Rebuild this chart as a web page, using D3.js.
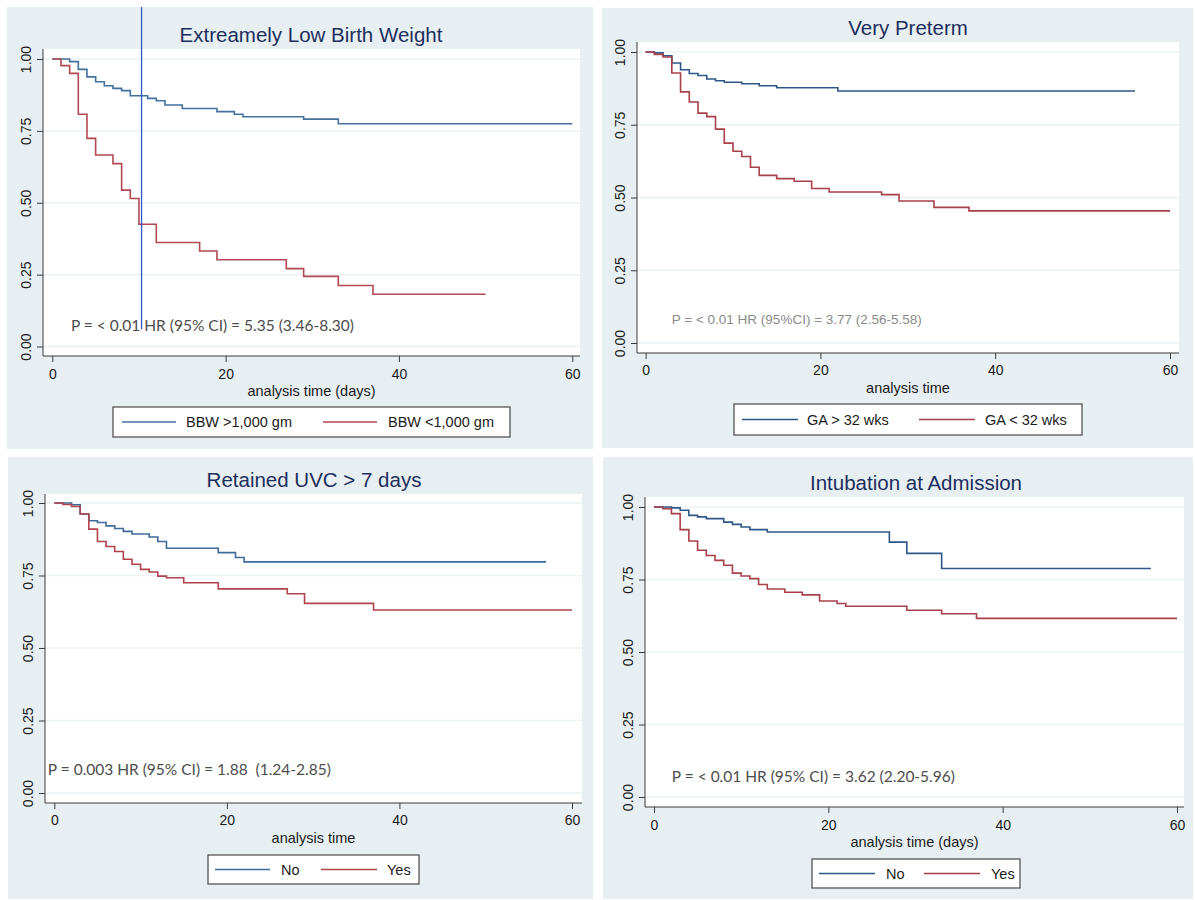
<!DOCTYPE html>
<html>
<head>
<meta charset="utf-8">
<script src="https://cdn.jsdelivr.net/npm/d3@7"></script>
<style>
body { margin: 0; background: #ffffff; }
svg text { font-family: "Liberation Sans", Arial, sans-serif; }
</style>
</head>
<body>
<div id="chart"></div>
<script>
// ---- data ----
const xTicks = [0, 20, 40, 60];
const yTicks = [0, 0.25, 0.5, 0.75, 1];

// Extreamely Low Birth Weight
const elbwHighTime = [0, 2, 3, 4, 5, 6, 7, 8, 9, 11, 12, 13, 15, 19, 21, 22, 29, 33, 60];
const elbwHighSurv = [1, 0.991, 0.964, 0.938, 0.921, 0.907, 0.898, 0.890, 0.872, 0.863, 0.855, 0.840, 0.828, 0.817, 0.808, 0.799, 0.791, 0.775, 0.775];
const elbwLowTime = [0, 1, 2, 3, 4, 5, 7, 8, 9, 10, 12, 17, 19, 27, 29, 33, 37, 50];
const elbwLowSurv = [1, 0.977, 0.950, 0.808, 0.724, 0.666, 0.636, 0.544, 0.515, 0.425, 0.362, 0.332, 0.302, 0.271, 0.244, 0.212, 0.182, 0.182];

// Very Preterm
const gaHighTime = [0, 1, 2, 3, 4, 5, 6, 7, 8, 9, 11, 13, 15, 22, 56];
const gaHighSurv = [1, 0.997, 0.987, 0.962, 0.939, 0.926, 0.919, 0.907, 0.901, 0.896, 0.891, 0.884, 0.877, 0.866, 0.866];
const gaLowTime = [0, 1, 2, 3, 4, 5, 6, 7, 8, 9, 10, 11, 12, 13, 15, 17, 19, 21, 27, 29, 33, 37, 60];
const gaLowSurv = [1, 0.992, 0.983, 0.928, 0.863, 0.828, 0.790, 0.778, 0.735, 0.687, 0.659, 0.641, 0.604, 0.576, 0.565, 0.556, 0.531, 0.519, 0.510, 0.488, 0.466, 0.454, 0.454];

// Retained UVC > 7 days
const uvcNoTime = [0, 2, 3, 4, 5, 6, 7, 8, 9, 11, 12, 13, 19, 21, 22, 57];
const uvcNoSurv = [1, 0.994, 0.962, 0.939, 0.933, 0.921, 0.912, 0.902, 0.893, 0.883, 0.867, 0.844, 0.829, 0.812, 0.797, 0.797];
const uvcYesTime = [0, 1, 2, 3, 4, 5, 6, 7, 8, 9, 10, 11, 12, 13, 15, 19, 27, 29, 37, 60];
const uvcYesSurv = [1, 0.995, 0.988, 0.962, 0.910, 0.867, 0.850, 0.833, 0.806, 0.789, 0.771, 0.762, 0.748, 0.742, 0.725, 0.704, 0.687, 0.654, 0.631, 0.631];

// Intubation at Admission
const intNoTime = [0, 2, 3, 4, 5, 6, 8, 9, 10, 11, 13, 27, 29, 33, 57];
const intNoSurv = [1, 0.997, 0.989, 0.971, 0.966, 0.960, 0.948, 0.940, 0.931, 0.922, 0.914, 0.879, 0.840, 0.788, 0.788];
const intYesTime = [0, 1, 2, 3, 4, 5, 6, 7, 8, 9, 10, 11, 12, 13, 15, 17, 19, 21, 22, 29, 33, 37, 60];
const intYesSurv = [1, 0.994, 0.977, 0.922, 0.883, 0.851, 0.833, 0.816, 0.799, 0.772, 0.762, 0.753, 0.733, 0.717, 0.706, 0.697, 0.676, 0.667, 0.658, 0.644, 0.632, 0.616, 0.616];

const titles = ["Extreamely Low Birth Weight", "Very Preterm", "Retained UVC > 7 days", "Intubation at Admission"];
const xTitles = ["analysis time (days)", "analysis time", "analysis time", "analysis time (days)"];
const legendLabels = [
    ["BBW >1,000 gm", "BBW <1,000 gm"],
    ["GA > 32 wks", "GA < 32 wks"],
    ["No", "Yes"],
    ["No", "Yes"]
];
const notes = [
    "P = < 0.01 HR (95% CI) = 5.35 (3.46-8.30)",
    "P = < 0.01 HR (95%CI) = 3.77 (2.56-5.58)",
    "P = 0.003 HR (95% CI) = 1.88  (1.24-2.85)",
    "P = < 0.01 HR (95% CI) = 3.62 (2.20-5.96)"
];
// where each note sits, in data units [time, survival]
const notePos = [[2.15, 0.075], [3.0, 0.082], [-0.75, 0.083], [2.05, 0.072]];
// stray vertical marker in the first panel
const markerTime = 10.3;
const markerBottom = 0.06;

// ---- layout ----
const width = 1195;
const height = 900;

const panelBg = "#e8eff2";
const gridColor = "#ebf2f4";
const titleColor = "#1d2e5e";

const layout = [
    { bg: [7, 7, 586, 442], plot: [43, 580, 49, 356], xr: [52.3, 572.3], yr: [346.5, 59],
      titleX: 311, titleY: 34, tickY: 374, xTitleY: 391,
      legend: [113, 407, 397, 30], items: [[122, 176, 186], [323, 377, 388]],
      blue: "#44709e", red: "#b24953", noteFont: "Lato", noteSize: 15.5, noteColor: "#4d4d4d" },
    { bg: [602, 8, 591, 440], plot: [637, 1179, 42, 353], xr: [645.6, 1170], yr: [343, 52],
      titleX: 908, titleY: 27, tickY: 370, xTitleY: 388,
      legend: [734, 404, 348, 31], items: [[742, 798, 807], [919, 975, 985]],
      blue: "#2e5787", red: "#a83f49", noteFont: "Liberation Sans", noteSize: 13.5, noteColor: "#8a8a8a" },
    { bg: [8, 457, 585, 442], plot: [45, 582, 494, 803], xr: [54.3, 572], yr: [793, 503],
      titleX: 314, titleY: 479, tickY: 820, xTitleY: 838,
      legend: [208, 855, 211, 29], items: [[215, 270, 281], [321, 377, 387]],
      blue: "#3e6b9a", red: "#b0434e", noteFont: "Lato", noteSize: 15.5, noteColor: "#4d4d4d" },
    { bg: [603, 457, 590, 442], plot: [645, 1184, 497, 807], xr: [654, 1177], yr: [797, 507],
      titleX: 916, titleY: 482, tickY: 825, xTitleY: 842,
      legend: [812, 859, 208, 29], items: [[819, 875, 886], [924, 980, 991]],
      blue: "#2e5787", red: "#a83f49", noteFont: "Lato", noteSize: 15.5, noteColor: "#4d4d4d" }
];

const curves = [
    [[elbwHighTime, elbwHighSurv], [elbwLowTime, elbwLowSurv]],
    [[gaHighTime, gaHighSurv], [gaLowTime, gaLowSurv]],
    [[uvcNoTime, uvcNoSurv], [uvcYesTime, uvcYesSurv]],
    [[intNoTime, intNoSurv], [intYesTime, intYesSurv]]
];

const svg = d3.select("#chart")
    .append("svg")
    .attr("width", width)
    .attr("height", height);

svg.append("rect")
    .attr("width", width)
    .attr("height", height)
    .attr("fill", "#ffffff");

function drawPanel(i) {
    const L = layout[i];
    const g = svg.append("g").attr("class", "panel");

    const x = d3.scaleLinear().domain([0, 60]).range(L.xr);
    const y = d3.scaleLinear().domain([0, 1]).range(L.yr);

    // grey graph region + white plot region
    g.append("rect")
        .attr("x", L.bg[0]).attr("y", L.bg[1])
        .attr("width", L.bg[2]).attr("height", L.bg[3])
        .attr("fill", panelBg);

    g.append("rect")
        .attr("x", L.plot[0]).attr("y", L.plot[2])
        .attr("width", L.plot[1] - L.plot[0]).attr("height", L.plot[3] - L.plot[2])
        .attr("fill", "#ffffff");

    // horizontal grid
    g.selectAll(null)
        .data(yTicks)
        .enter()
        .append("line")
        .attr("x1", L.plot[0]).attr("x2", L.plot[1])
        .attr("y1", d => y(d)).attr("y2", d => y(d))
        .attr("stroke", gridColor)
        .attr("stroke-width", 1.5);

    // axes
    const yAxis = d3.axisLeft(y)
        .tickValues(yTicks)
        .tickFormat(d3.format(".2f"))
        .tickSize(6)
        .tickPadding(4);

    const xAxis = d3.axisBottom(x)
        .tickValues(xTicks)
        .tickSize(6)
        .tickPadding(4);

    const ya = g.append("g")
        .attr("transform", `translate(${L.plot[0]},0)`)
        .call(yAxis);
    ya.select(".domain")
        .attr("d", `M0,${L.plot[2]}V${L.plot[3]}`)
        .attr("stroke", "#3a3a3a");
    ya.selectAll(".tick line").attr("stroke", "#3a3a3a");
    ya.selectAll(".tick text")
        .attr("x", null).attr("dy", null)
        .attr("transform", "translate(-17,0) rotate(-90)")
        .attr("text-anchor", "middle")
        .attr("dominant-baseline", "central")
        .attr("fill", "#1a1a1a")
        .style("font-size", "14px");

    const xa = g.append("g")
        .attr("transform", `translate(0,${L.plot[3]})`)
        .call(xAxis);
    xa.select(".domain")
        .attr("d", `M${L.plot[0]},0H${L.plot[1]}`)
        .attr("stroke", "#3a3a3a");
    xa.selectAll(".tick line").attr("stroke", "#3a3a3a");
    xa.selectAll(".tick text")
        .attr("y", L.tickY - L.plot[3]).attr("dy", null)
        .attr("dominant-baseline", "central")
        .attr("fill", "#1a1a1a")
        .style("font-size", "14px");

    g.selectAll(".tick text, .domain").attr("font-family", null);
    g.selectAll("g").attr("font-family", null).attr("font-size", null);

    // axis title + panel title
    g.append("text")
        .attr("x", (L.plot[0] + L.plot[1]) / 2)
        .attr("y", L.xTitleY)
        .attr("text-anchor", "middle")
        .attr("dominant-baseline", "central")
        .attr("fill", "#1a1a1a")
        .style("font-size", "14.5px")
        .text(xTitles[i]);

    g.append("text")
        .attr("x", L.titleX)
        .attr("y", L.titleY)
        .attr("text-anchor", "middle")
        .attr("dominant-baseline", "central")
        .attr("fill", titleColor)
        .style("font-size", "20.5px")
        .text(titles[i]);

    // survival curves
    const line = d3.line()
        .x(d => x(d[0]))
        .y(d => y(d[1]))
        .curve(d3.curveStepAfter);

    const colors = [L.blue, L.red];
    curves[i].forEach((c, k) => {
        const pts = c[0].map((t, j) => [t, c[1][j]]);
        g.append("path")
            .datum(pts)
            .attr("d", line)
            .attr("fill", "none")
            .attr("stroke", colors[k])
            .attr("stroke-width", 1.6);
    });

    // test note
    g.append("text")
        .attr("x", x(notePos[i][0]))
        .attr("y", y(notePos[i][1]))
        .attr("dominant-baseline", "central")
        .attr("fill", L.noteColor)
        .style("font-family", L.noteFont)
        .style("font-size", L.noteSize + "px")
        .style("white-space", "pre")
        .text(notes[i]);

    if (i === 0) {
        g.append("line")
            .attr("x1", x(markerTime)).attr("x2", x(markerTime))
            .attr("y1", L.bg[1]).attr("y2", y(markerBottom))
            .attr("stroke", "#3557c4")
            .attr("stroke-width", 1.3);
    }

    // legend
    const lg = g.append("g");
    lg.append("rect")
        .attr("x", L.legend[0]).attr("y", L.legend[1])
        .attr("width", L.legend[2]).attr("height", L.legend[3])
        .attr("fill", "#ffffff")
        .attr("stroke", "#555555")
        .attr("stroke-width", 1.3);

    const cy = L.legend[1] + L.legend[3] / 2;
    L.items.forEach((it, k) => {
        lg.append("line")
            .attr("x1", it[0]).attr("x2", it[1])
            .attr("y1", cy).attr("y2", cy)
            .attr("stroke", colors[k])
            .attr("stroke-width", 1.6);
        lg.append("text")
            .attr("x", it[2])
            .attr("y", cy)
            .attr("dominant-baseline", "central")
            .attr("fill", "#1a1a1a")
            .style("font-size", "14.5px")
            .text(legendLabels[i][k]);
    });
}

layout.forEach((d, i) => drawPanel(i));
</script>
</body>
</html>
